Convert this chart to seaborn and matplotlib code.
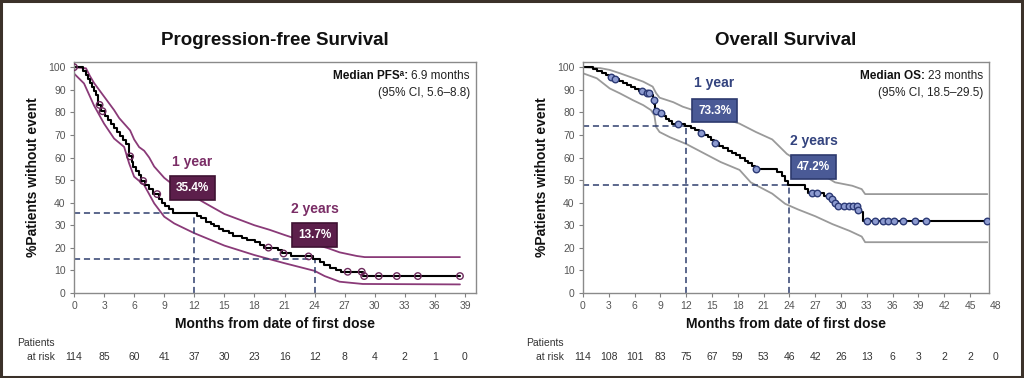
import numpy as np
import pandas as pd
import matplotlib
matplotlib.use("Agg")
import matplotlib.pyplot as plt
import matplotlib.transforms as mtransforms
from matplotlib.patches import Rectangle
import seaborn as sns

# ---------------- data ----------------
pfs_t = [0, 0.9, 1.2, 1.4, 1.6, 1.8, 2.0, 2.2, 2.4, 2.7, 3.1, 3.4, 3.7, 4.0, 4.3, 4.6, 4.9,
         5.2, 5.5, 5.8, 5.9, 6.2, 6.5, 6.7, 7.1, 7.5, 7.9, 8.5, 8.8, 9.1, 9.5, 9.9, 12.3,
         12.7, 13.2, 13.7, 14.0, 14.5, 14.9, 15.5, 15.9, 16.8, 17.3, 18.1, 18.6, 19.0, 20.3,
         20.7, 21.6, 23.8, 24.5, 24.9, 25.5, 26.1, 26.6, 28.8, 38.5]
pfs_s = [100, 98.4, 96.5, 94.7, 92.9, 91.1, 89.3, 87.5, 83.3, 80.5, 78.6, 76.8, 75.0, 73.2,
         71.4, 69.6, 67.8, 66.0, 60.5, 57.9, 55.9, 54.1, 52.3, 49.6, 47.8, 46.0, 43.8, 41.8,
         40.0, 38.5, 37.0, 35.4, 34.2, 33.0, 31.5, 30.4, 29.5, 28.4, 27.6, 26.4, 25.4, 24.4,
         23.6, 22.5, 21.4, 20.1, 18.9, 17.5, 16.2, 14.9, 13.6, 12.4, 11.2, 10.4, 9.4, 7.5, 7.5]
pfs_censor = [0, 2.55, 2.85, 5.6, 6.9, 8.3, 19.4, 20.9, 23.4, 27.3, 28.7, 28.95, 30.4, 32.2,
              34.3, 38.5]
pfs_up_t = [0, 1.2, 1.6, 2.0, 2.5, 3.0, 3.5, 4.0, 4.5, 5.0, 5.6, 6.0, 6.5, 7.0, 7.5, 8.0, 9.0,
            10.0, 11.0, 12.0, 13.0, 14.0, 15.0, 16.5, 18.0, 19.5, 21.0, 22.5, 24.0, 25.3, 26.5,
            28.2, 29.0, 38.5]
pfs_up = [100, 99.5, 96, 93, 90, 87, 84, 81, 77.5, 75, 72, 68, 64.6, 63, 60, 56, 51, 47.5, 45,
          42.6, 40, 37.5, 35, 32.5, 30, 28, 25.7, 23.5, 21.5, 19.9, 18, 16.4, 15.9, 15.9]
pfs_lo_t = [0, 1, 2, 3, 4, 5, 5.5, 6, 7, 8, 9, 10, 12, 15, 18, 21, 24, 25, 26.5, 28.8, 38.5]
pfs_lo = [97.2, 92.8, 83, 75, 68.4, 64.7, 57.4, 51.5, 47.8, 39.7, 33.8, 30.8, 26.5, 21, 16.8,
          13.2, 9.8, 7.5, 5.0, 4.0, 3.8]

os_t = [0, 1.2, 1.6, 2.2, 2.7, 3.0, 3.5, 4.2, 4.7, 5.1, 5.6, 6.0, 6.5, 7.3, 7.9, 8.1, 8.3, 8.4,
        8.9, 9.4, 9.7, 10.0, 10.3, 11.8, 12.5, 13.0, 13.5, 14.1, 14.5, 14.9, 15.2, 15.8, 16.3,
        16.8, 17.3, 17.8, 18.3, 18.8, 19.2, 19.6, 20.0, 22.6, 23.1, 23.5, 23.8, 25.8, 26.2,
        28.0, 28.8, 29.2, 29.6, 31.9, 32.3, 32.6, 47.0]
os_s = [100, 99.1, 98.2, 97.4, 96.5, 95.6, 94.7, 93.8, 92.9, 92.0, 91.1, 90.2, 89.3, 88.4,
        87.5, 85.4, 83.6, 80.8, 79.5, 78.3, 77.2, 76.0, 74.9, 74.0, 73.0, 72.0, 71.0, 70.0,
        69.0, 67.7, 66.4, 65.3, 64.2, 63.1, 62.0, 60.9, 59.8, 58.6, 57.5, 56.3, 54.9, 53.4,
        51.6, 49.8, 47.8, 46.1, 44.4, 43.0, 41.8, 40.0, 38.5, 36.8, 36.0, 31.8, 31.8]
os_censor = [3.2, 3.7, 6.9, 7.4, 7.7, 8.2, 8.5, 9.1, 11.1, 13.7, 15.3, 20.1, 26.6, 27.2, 28.6,
             28.9, 29.3, 29.7, 30.3, 30.9, 31.4, 31.8, 32.0, 33.0, 33.9, 34.9, 35.5, 36.1,
             37.2, 38.6, 39.9, 47.0]
os_up_t = [0, 2.0, 3.1, 4.3, 5.4, 7.0, 8.1, 8.5, 8.9, 9.7, 10.5, 11.6, 12.8, 14.3, 15.8, 17.0,
           18.2, 20.1, 22.0, 22.8, 23.7, 25.0, 26.5, 28.0, 29.3, 31.3, 32.4, 32.8, 47.0]
os_up = [100, 99.6, 98.8, 97.3, 95.8, 93.6, 91.4, 88.5, 86.5, 85.5, 84.5, 82.5, 81, 78.5, 77,
         76.5, 75, 71.3, 68, 65, 61.6, 58.5, 55.5, 52, 49, 47.5, 46, 43.8, 43.8]
os_lo_t = [0, 1.6, 3.1, 4.3, 5.8, 7.0, 7.9, 8.3, 8.5, 8.9, 10.1, 12.0, 14.0, 16.0, 18.2, 19.5,
           21.0, 22.0, 23.5, 25.0, 27.0, 29.0, 31.0, 32.4, 32.8, 47.0]
os_lo = [97.3, 95.1, 90.6, 88.4, 85.4, 83.2, 81.0, 78.7, 73.5, 71.3, 69.0, 66.0, 62.0, 58.0,
         54.5, 49.0, 46.0, 44.0, 39.5, 37.0, 34.0, 30.5, 27.5, 25.0, 22.5, 22.5]

pfs_ticks = list(range(0, 40, 3))
os_ticks = list(range(0, 49, 3))
pfs_risk = [114, 85, 60, 41, 37, 30, 23, 16, 12, 8, 4, 2, 1, 0]
os_risk = [114, 108, 101, 83, 75, 67, 59, 53, 46, 42, 26, 13, 6, 3, 2, 2, 0]

pfs_marks = [("1 year", "35.4%", 12, 35.4), ("2 years", "13.7%", 24, 15.0)]
os_marks = [("1 year", "73.3%", 12, 73.8), ("2 years", "47.2%", 24, 47.8)]

# ---------------- style ----------------
sns.set_theme(style="white")
plt.rcParams["font.family"] = ["Liberation Sans", "DejaVu Sans"]

fig = plt.figure(figsize=(10.24, 3.78), dpi=100)
W, H = 1024, 378
ax1 = fig.add_axes([74 / W, 1 - 293 / H, (476 - 74) / W, (293 - 62) / H])
ax2 = fig.add_axes([583 / W, 1 - 293 / H, (989 - 583) / W, (293 - 62) / H])
renderer = fig.canvas.get_renderer()

navy = "#2f3f6e"


def step_at(t, s, c):
    idx = np.searchsorted(t, c, side="right") - 1
    return np.asarray(s)[idx]


def panel(ax, t, s, cens, ut, u, lt, l, ci_col, mk_face, mk_edge, box_col, box_edge,
          lab_col, marks, xmax, ticks, title, median_bold, median_rest, risk, risk_x):
    sns.lineplot(x=ut, y=u, ax=ax, color=ci_col, lw=1.3, estimator=None, sort=False)
    sns.lineplot(x=lt, y=l, ax=ax, color=ci_col, lw=1.3, estimator=None, sort=False)
    for lab, pct, mx, my in marks:
        ax.plot([0, mx], [my, my], ls=(0, (4, 2.5)), color=navy, lw=1.1)
        ax.plot([mx, mx], [0, my], ls=(0, (4, 2.5)), color=navy, lw=1.1)
    sns.lineplot(x=t, y=s, ax=ax, color="black", lw=1.5, drawstyle="steps-post",
                 estimator=None, sort=False)
    cy = step_at(np.array(t), s, np.array(cens))
    sns.scatterplot(x=cens, y=cy, ax=ax, s=22, marker="o", facecolor=mk_face,
                    edgecolor=mk_edge, linewidth=1.0, zorder=5)
    ax.set_xlim(0, xmax)
    ax.set_ylim(0, 102.3)
    ax.set_yticks(range(0, 101, 10))
    ax.set_xticks([x for x in ticks if x <= xmax])
    ax.tick_params(axis="both", labelsize=7.5, labelcolor="#555555", color="#808080",
                   length=3, width=0.8, direction="out", pad=3, bottom=True, left=True)
    for sp in ax.spines.values():
        sp.set_color("#8a8a8a")
        sp.set_linewidth(1.0)
    ax.set_xlabel("Months from date of first dose", fontsize=10, fontweight="bold",
                  labelpad=4, color="#111111")
    ax.set_ylabel("%Patients without event", fontsize=10, fontweight="bold",
                  labelpad=6, color="#111111")
    ax.set_title(title, fontsize=13.5, fontweight="bold", pad=12, color="#111111")
    # median annotation: bold lead-in + regular value
    t_rest = ax.text(0.985, 0.939, median_rest[0], transform=ax.transAxes, ha="right",
                     va="center", fontsize=8.5, color="#222222")
    bb = t_rest.get_window_extent(renderer=renderer)
    ax.text(bb.x0 - 3, bb.y0 + bb.height / 2, median_bold, transform=None, ha="right",
            va="center", fontsize=8.5, fontweight="bold", color="#111111")
    ax.text(0.985, 0.866, median_rest[1], transform=ax.transAxes, ha="right", va="center",
            fontsize=8.5, color="#222222")
    for (lab, pct, mx, my), pos in zip(marks, risk_x["labels"]):
        ax.text(pos[0], pos[1], lab, ha="center", va="center", fontsize=10,
                fontweight="bold", color=lab_col)
        ax.text(pos[0], pos[2], pct, ha="center", va="center", fontsize=8.5,
                fontweight="bold", color="white",
                bbox=dict(boxstyle="square,pad=0.5", fc=box_col, ec=box_edge, lw=1.2))
    # tick labels beyond the frame
    tr = mtransforms.blended_transform_factory(ax.transData, fig.transFigure)
    for x in ticks:
        if x > xmax:
            ax.text(x, 1 - 306 / H, str(x), transform=tr, ha="center", va="center",
                    fontsize=7.5, color="#555555", clip_on=False)
    # number at risk table
    for x, n in zip(ticks, risk):
        ax.text(x, 1 - 357 / H, str(n), transform=tr, ha="center", va="center",
                fontsize=7.5, color="#333333", clip_on=False)
    ax.text(risk_x["px"] / W, 1 - 343 / H, "Patients", transform=fig.transFigure,
            ha="right", va="center", fontsize=7.5, color="#333333")
    ax.text(risk_x["px"] / W, 1 - 357 / H, "at risk", transform=fig.transFigure,
            ha="right", va="center", fontsize=7.5, color="#333333")


panel(ax1, pfs_t, pfs_s, pfs_censor, pfs_up_t, pfs_up, pfs_lo_t, pfs_lo,
      ci_col="#8a3a78", mk_face="none", mk_edge="#6d2a5c", box_col="#5c1f4b",
      box_edge="#3e1232", lab_col="#7a2d66", marks=pfs_marks, xmax=40.1, ticks=pfs_ticks,
      title="Progression-free Survival", median_bold="Median PFS\u1d43:",
      median_rest=("6.9 months", "(95% CI, 5.6–8.8)"), risk=pfs_risk,
      risk_x={"px": 55, "labels": [(11.8, 58, 46.5), (24.0, 37.2, 25.7)]})
panel(ax2, os_t, os_s, os_censor, os_up_t, os_up, os_lo_t, os_lo,
      ci_col="#9a9a9a", mk_face="#8d9bd0", mk_edge="#2c3a75", box_col="#4a5a96",
      box_edge="#2d3a6e", lab_col="#33437e", marks=os_marks, xmax=47.2, ticks=os_ticks,
      title="Overall Survival", median_bold="Median OS:",
      median_rest=("23 months", "(95% CI, 18.5–29.5)"), risk=os_risk,
      risk_x={"px": 564, "labels": [(15.3, 93, 80.8), (26.8, 67.4, 55.8)]})

fig.add_artist(Rectangle((0.001, 0.002), 0.997, 0.995, transform=fig.transFigure,
                         fill=False, ec="#3b3129", lw=2.2))

fig.savefig("out.png", dpi=100, facecolor="white")
